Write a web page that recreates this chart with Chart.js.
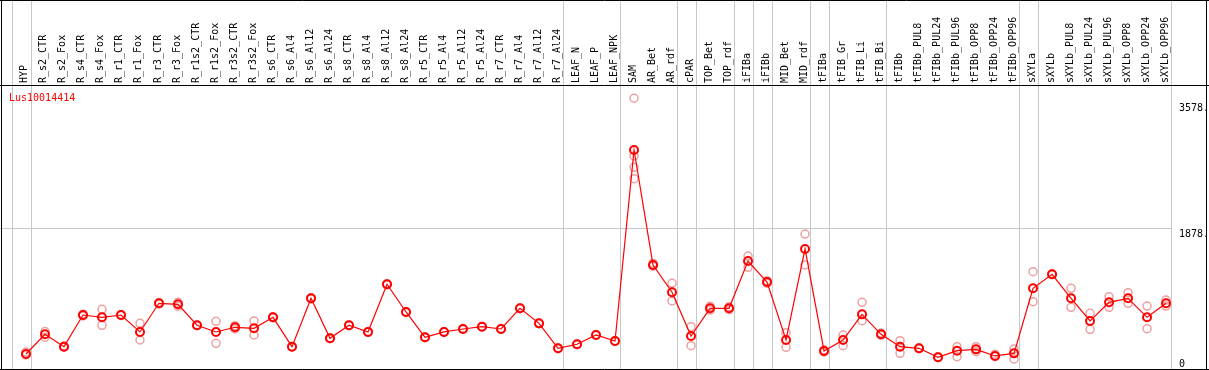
<!DOCTYPE html>
<html>
<head>
<meta charset="utf-8">
<script src="https://cdn.jsdelivr.net/npm/chart.js@4"></script>
<style>
  body { margin: 0; background: #fff; }
  canvas { display: block; }
</style>
</head>
<body>
<canvas id="geneChart" width="1209" height="370"></canvas>
<script>
const geneName = 'Lus10014414';

const categories = [
    'HYP', 'R_s2_CTR', 'R_s2_Fox', 'R_s4_CTR', 'R_s4_Fox', 'R_r1_CTR', 'R_r1_Fox', 'R_r3_CTR', 'R_r3_Fox',
    'R_r1s2_CTR', 'R_r1s2_Fox', 'R_r3s2_CTR', 'R_r3s2_Fox', 'R_s6_CTR', 'R_s6_Al4', 'R_s6_Al12', 'R_s6_Al24',
    'R_s8_CTR', 'R_s8_Al4', 'R_s8_Al12', 'R_s8_Al24', 'R_r5_CTR', 'R_r5_Al4', 'R_r5_Al12', 'R_r5_Al24',
    'R_r7_CTR', 'R_r7_Al4', 'R_r7_Al12', 'R_r7_Al24', 'LEAF_N', 'LEAF_P', 'LEAF_NPK', 'SAM', 'AR_Bet', 'AR_rdf',
    'cPAR', 'TOP_Bet', 'TOP_rdf', 'iFIBa', 'iFIBb', 'MID_Bet', 'MID_rdf', 'tFIBa', 'tFIB_Gr', 'tFIB_Li', 'tFIB_Bi',
    'tFIBb', 'tFIBb_PUL8', 'tFIBb_PUL24', 'tFIBb_PUL96', 'tFIBb_OPP8', 'tFIBb_OPP24', 'tFIBb_OPP96',
    'sXYLa', 'sXYLb', 'sXYLb_PUL8', 'sXYLb_PUL24', 'sXYLb_PUL96', 'sXYLb_OPP8', 'sXYLb_OPP24', 'sXYLb_OPP96'
];

const means = [
    188, 453, 287, 713, 682, 713, 485, 871, 857, 575, 485, 548, 534, 682, 287, 938, 400, 575, 485, 1127,
    754, 413, 485, 525, 556, 525, 803, 601, 265, 319, 444, 363, 2934, 1386, 1019, 431, 803, 803, 1440, 1157,
    377, 1602, 229, 377, 722, 453, 287, 265, 144, 233, 251, 162, 197, 1073, 1261, 938, 633, 884, 938, 682, 871
];

const replicates = [
    [215, 175], [490, 415], [295, 280], [725, 700], [790, 575], [720, 705], [601, 377], [880, 862], [885, 830],
    [580, 570], [628, 332], [570, 525], [633, 444], [690, 675], [290, 284], [945, 930], [405, 395],
    [580, 570], [490, 480], [1135, 1120], [760, 748], [418, 408], [490, 480], [530, 520], [560, 552],
    [530, 520], [808, 798], [605, 597], [270, 260], [323, 315], [448, 440], [368, 358],
    [3630, 2853, 2701, 2548], [1410, 1370], [1140, 902], [556, 300], [830, 780], [825, 785], [1507, 1355],
    [1175, 1140], [475, 279], [1803, 1386], [245, 215], [444, 300], [884, 637], [470, 440],
    [368, 197], [272, 258], [150, 138], [287, 152], [287, 220], [185, 155], [256, 121],
    [1296, 893], [1268, 1255], [1073, 817], [736, 521], [960, 817], [1013, 871], [834, 529], [915, 834]
];

// last category index of each sample group (-1 = left edge)
const groupEnds = [-1, 0, 28, 31, 34, 35, 37, 38, 39, 41, 42, 45, 52, 53, 60];
const yTicks = [0, 1878, 3578];
const gridValue = 1878;

const mono = '10px "DejaVu Sans Mono", monospace';

const frame = {
    id: 'frame',
    beforeDatasetsDraw(chart) {
        const { ctx } = chart;
        const x = chart.scales.x;
        const y = chart.scales.y;
        ctx.save();
        ctx.strokeStyle = '#c8c8c8';
        ctx.lineWidth = 1;
        groupEnds.forEach(i => {
            const px = Math.round(x.getPixelForValue(i + 0.24)) + 0.5;
            ctx.beginPath();
            ctx.moveTo(px, 0);
            ctx.lineTo(px, 369);
            ctx.stroke();
        });
        const gy = Math.round(y.getPixelForValue(gridValue)) + 0.5;
        const gx = Math.round(x.getPixelForValue(60.24)) + 0.5;
        ctx.beginPath();
        ctx.moveTo(0, gy);
        ctx.lineTo(gx, gy);
        ctx.stroke();
        ctx.restore();
    },
    afterDraw(chart) {
        const { ctx } = chart;
        const x = chart.scales.x;
        const y = chart.scales.y;
        ctx.save();
        ctx.font = mono;
        ctx.fillStyle = '#000';
        ctx.textAlign = 'left';
        ctx.textBaseline = 'alphabetic';
        categories.forEach((name, i) => {
            const px = x.getPixelForValue(i) + 1.5;
            ctx.save();
            ctx.translate(px, 83);
            ctx.rotate(-Math.PI / 2);
            ctx.fillText(name, 0, 0);
            ctx.restore();
        });

        ctx.textBaseline = 'top';
        yTicks.forEach(v => {
            const py = Math.min(y.getPixelForValue(v) + 1, 359);
            ctx.fillText(v === 0 ? '0' : v + '.', 1179, py);
        });

        ctx.fillStyle = '#ff0000';
        ctx.fillText(geneName, 9, 93);

        ctx.strokeStyle = '#000';
        ctx.lineWidth = 1;
        ctx.beginPath();
        ctx.moveTo(0, 0.5); ctx.lineTo(1209, 0.5);
        ctx.moveTo(0, 85.5); ctx.lineTo(1209, 85.5);
        ctx.moveTo(0, 369.5); ctx.lineTo(1209, 369.5);
        ctx.moveTo(1.5, 0); ctx.lineTo(1.5, 370);
        ctx.moveTo(1206.5, 0); ctx.lineTo(1206.5, 370);
        ctx.stroke();
        ctx.restore();
    }
};

const meanPoints = means.map((v, i) => ({ x: i, y: v }));
const repPoints = [];
replicates.forEach((reps, i) => reps.forEach(v => repPoints.push({ x: i, y: v })));

new Chart(document.getElementById('geneChart'), {
    type: 'scatter',
    data: {
        datasets: [
            {
                label: 'mean',
                type: 'line',
                data: meanPoints,
                order: 0,
                borderColor: '#ff0000',
                borderWidth: 1.2,
                pointRadius: 4,
                pointBorderWidth: 2,
                pointBorderColor: '#ff0000',
                pointBackgroundColor: 'rgba(0,0,0,0)',
                tension: 0
            },
            {
                label: 'replicates',
                data: repPoints,
                order: 1,
                pointRadius: 4,
                pointBorderWidth: 1.5,
                pointBorderColor: '#eda0a0',
                pointBackgroundColor: 'rgba(0,0,0,0)'
            }
        ]
    },
    options: {
        responsive: false,
        animation: false,
        layout: { autoPadding: false, padding: { top: 86, bottom: 2, left: 0, right: 0 } },
        plugins: {
            legend: { display: false },
            tooltip: { enabled: false }
        },
        scales: {
            x: { type: 'linear', display: false, min: -1.368, max: 62.26 },
            y: { type: 'linear', display: false, min: 0, max: 3795 }
        }
    },
    plugins: [frame]
});
</script>
</body>
</html>
